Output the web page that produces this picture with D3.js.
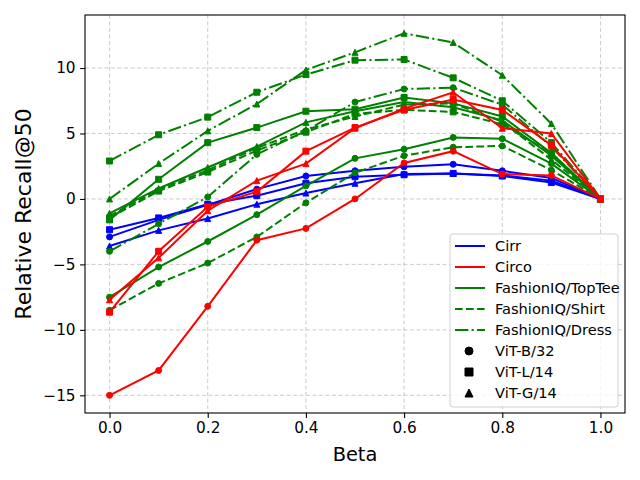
<!DOCTYPE html>
<html>
<head>
<meta charset="utf-8">
<script src="https://cdn.jsdelivr.net/npm/d3@7"></script>
<style>
  html, body { margin: 0; padding: 0; background: #fff; }
  svg { display: block; font-family: "DejaVu Sans", sans-serif; }
</style>
</head>
<body>
<div id="chart"></div>
<script>
// x values (Beta)
const betas = [0, 0.1, 0.2, 0.3, 0.4, 0.5, 0.6, 0.7, 0.8, 0.9, 1.0];

const datasets = ["Cirr", "Circo", "FashionIQ/TopTee", "FashionIQ/Shirt", "FashionIQ/Dress"];
const models = ["ViT-B/32", "ViT-L/14", "ViT-G/14"];

const xTicks = [0, 0.2, 0.4, 0.6, 0.8, 1.0];
const yTicks = [-15, -10, -5, 0, 5, 10];

// relative Recall@50 per dataset / backbone
const cirrB = [-2.9, -1.6, -0.45, 0.75, 1.75, 2.15, 2.45, 2.65, 2.15, 1.6, 0];
const cirrL = [-2.35, -1.45, -0.4, 0.25, 1.2, 1.7, 1.85, 1.95, 1.75, 1.25, 0];
const cirrG = [-3.6, -2.4, -1.5, -0.4, 0.45, 1.2, 1.9, 1.95, 1.8, 1.4, 0];

const circoB = [-15.0, -13.1, -8.2, -3.15, -2.25, 0.0, 2.75, 3.65, 1.9, 1.8, 0];
const circoL = [-8.65, -4.0, -0.6, 0.55, 3.65, 5.45, 6.8, 7.6, 6.8, 4.1, 0];
const circoG = [-7.7, -4.5, -0.9, 1.4, 2.7, 5.4, 6.9, 8.15, 5.4, 5.0, 0];

const topteeB = [-7.5, -5.2, -3.25, -1.2, 1.0, 3.1, 3.8, 4.7, 4.6, 2.7, 0];
const topteeL = [-1.6, 1.5, 4.3, 5.45, 6.7, 6.85, 7.75, 7.3, 6.3, 3.5, 0];
const topteeG = [-1.1, 0.8, 2.4, 4.0, 5.85, 6.7, 7.4, 7.0, 6.0, 3.3, 0];

const shirtB = [-8.5, -6.45, -4.9, -2.9, -0.3, 2.0, 3.3, 3.95, 4.05, 2.2, 0];
const shirtL = [-1.45, 0.6, 2.05, 3.7, 5.1, 6.5, 6.8, 6.65, 5.7, 3.5, 0];
const shirtG = [-1.3, 0.7, 2.2, 3.9, 5.3, 6.3, 7.2, 7.3, 5.9, 3.0, 0];

const dressB = [-4.0, -1.9, 0.15, 3.4, 5.2, 7.4, 8.4, 8.5, 7.2, 4.0, 0];
const dressL = [2.9, 4.9, 6.25, 8.15, 9.5, 10.6, 10.65, 9.25, 7.5, 4.3, 0];
const dressG = [0.0, 2.7, 5.2, 7.25, 9.85, 11.2, 12.65, 11.95, 9.45, 5.75, 0];

const colorOf = { "Cirr": "blue", "Circo": "red", "FashionIQ/TopTee": "green", "FashionIQ/Shirt": "green", "FashionIQ/Dress": "green" };
const dashOf = { "Cirr": null, "Circo": null, "FashionIQ/TopTee": null, "FashionIQ/Shirt": "7.7,3.3", "FashionIQ/Dress": "13.3,3.3,2.1,3.3" };
const markerOf = { "ViT-B/32": "circle", "ViT-L/14": "square", "ViT-G/14": "triangle" };

// drawing order (red drawn last, squares over triangles)
const series = [
  ["Cirr", "ViT-B/32", cirrB], ["Cirr", "ViT-G/14", cirrG], ["Cirr", "ViT-L/14", cirrL],
  ["FashionIQ/TopTee", "ViT-B/32", topteeB], ["FashionIQ/TopTee", "ViT-G/14", topteeG], ["FashionIQ/TopTee", "ViT-L/14", topteeL],
  ["FashionIQ/Shirt", "ViT-B/32", shirtB], ["FashionIQ/Shirt", "ViT-G/14", shirtG], ["FashionIQ/Shirt", "ViT-L/14", shirtL],
  ["FashionIQ/Dress", "ViT-B/32", dressB], ["FashionIQ/Dress", "ViT-G/14", dressG], ["FashionIQ/Dress", "ViT-L/14", dressL],
  ["Circo", "ViT-B/32", circoB], ["Circo", "ViT-G/14", circoG], ["Circo", "ViT-L/14", circoL]
].map(([ds, m, vals]) => ({ ds, m, pts: vals.map((v, i) => ({ x: betas[i], y: v })) }));

const width = 640, height = 480;
const margin = { left: 85, right: 15, top: 15, bottom: 67 };

const svg = d3.select("#chart").append("svg")
  .attr("width", width).attr("height", height);
svg.append("rect").attr("width", width).attr("height", height).attr("fill", "#fff");

const x = d3.scaleLinear().domain([-0.05, 1.05]).range([margin.left, width - margin.right]);
const y = d3.scaleLinear().domain([-16.35, 14.05]).range([height - margin.bottom, margin.top]);

// grid
const grid = svg.append("g").attr("stroke", "#b0b0b0").attr("stroke-width", 0.8)
  .attr("stroke-dasharray", "4,2.5").attr("opacity", 0.8);
grid.selectAll("line.gx").data(xTicks).enter().append("line")
  .attr("x1", d => x(d)).attr("x2", d => x(d))
  .attr("y1", margin.top).attr("y2", height - margin.bottom);
grid.selectAll("line.gy").data(yTicks).enter().append("line")
  .attr("y1", d => y(d)).attr("y2", d => y(d))
  .attr("x1", margin.left).attr("x2", width - margin.right);

function markerPath(type, s) {
  const h = s / 2;
  if (type === "circle") return d3.symbol(d3.symbolCircle, Math.PI * h * h)();
  if (type === "square") return `M${-h},${-h}H${h}V${h}H${-h}Z`;
  return `M0,${-h}L${h},${h}L${-h},${h}Z`;
}

const line = d3.line().x(d => x(d.x)).y(d => y(d.y));

const plot = svg.append("g");
series.forEach(s => {
  const g = plot.append("g");
  const c = colorOf[s.ds];
  g.append("path").attr("d", line(s.pts))
    .attr("fill", "none").attr("stroke", c).attr("stroke-width", 2)
    .attr("stroke-dasharray", dashOf[s.ds]);
  g.selectAll("path.mk").data(s.pts).enter().append("path")
    .attr("class", "mk")
    .attr("d", markerPath(markerOf[s.m], 6))
    .attr("transform", d => `translate(${x(d.x)},${y(d.y)})`)
    .attr("fill", c).attr("stroke", c).attr("stroke-width", 1);
});

// axes
const xAxis = svg.append("g").attr("transform", `translate(0,${height - margin.bottom})`)
  .call(d3.axisBottom(x).tickValues(xTicks).tickFormat(d3.format(".1f")).tickSize(4.9).tickPadding(4.5));
const yAxis = svg.append("g").attr("transform", `translate(${margin.left},0)`)
  .call(d3.axisLeft(y).tickValues(yTicks).tickFormat(d => d < 0 ? "\u2212" + Math.abs(d) : d).tickSize(4.9).tickPadding(4.5));
[xAxis, yAxis].forEach(a => {
  a.select(".domain").remove();
  a.selectAll(".tick line").attr("stroke", "#000").attr("stroke-width", 1.1);
  a.selectAll(".tick text").attr("fill", "#000").style("font-size", "15.3px")
    .style("font-family", "DejaVu Sans");
});

// frame
svg.append("rect")
  .attr("x", margin.left).attr("y", margin.top)
  .attr("width", width - margin.left - margin.right)
  .attr("height", height - margin.top - margin.bottom)
  .attr("fill", "none").attr("stroke", "#000").attr("stroke-width", 1.1);

svg.append("text").attr("x", x(0.5)).attr("y", 461).attr("text-anchor", "middle")
  .style("font-size", "19.4px").text("Beta");
svg.append("text").attr("transform", `translate(31,${(margin.top + height - margin.bottom) / 2}) rotate(-90)`)
  .attr("text-anchor", "middle").style("font-size", "22px").text("Relative Recall@50");

// legend
const legendItems = datasets.map(d => ({ label: d, kind: "line", color: colorOf[d], dash: dashOf[d] }))
  .concat(models.map(m => ({ label: m, kind: "marker", marker: markerOf[m] })));
const lg = svg.append("g").attr("transform", "translate(450,234)");
lg.append("rect").attr("width", 168).attr("height", 173).attr("rx", 3)
  .attr("fill", "#fff").attr("fill-opacity", 0.8).attr("stroke", "#d0d0d0").attr("stroke-width", 1);
const rows = lg.selectAll("g.item").data(legendItems).enter().append("g")
  .attr("transform", (d, i) => `translate(0,${12 + i * 21})`);
rows.filter(d => d.kind === "line").append("line")
  .attr("x1", 5).attr("x2", 35).attr("y1", 0).attr("y2", 0)
  .attr("stroke", d => d.color).attr("stroke-width", 2)
  .attr("stroke-dasharray", d => d.dash);
rows.filter(d => d.kind === "marker").append("path")
  .attr("d", d => markerPath(d.marker, 8))
  .attr("transform", "translate(19,0)")
  .attr("fill", "#000").attr("stroke", "#000").attr("stroke-width", 1);
rows.append("text").attr("x", 45).attr("y", 0).attr("dy", "0.35em")
  .style("font-size", "14.6px").text(d => d.label);
</script>
</body>
</html>
